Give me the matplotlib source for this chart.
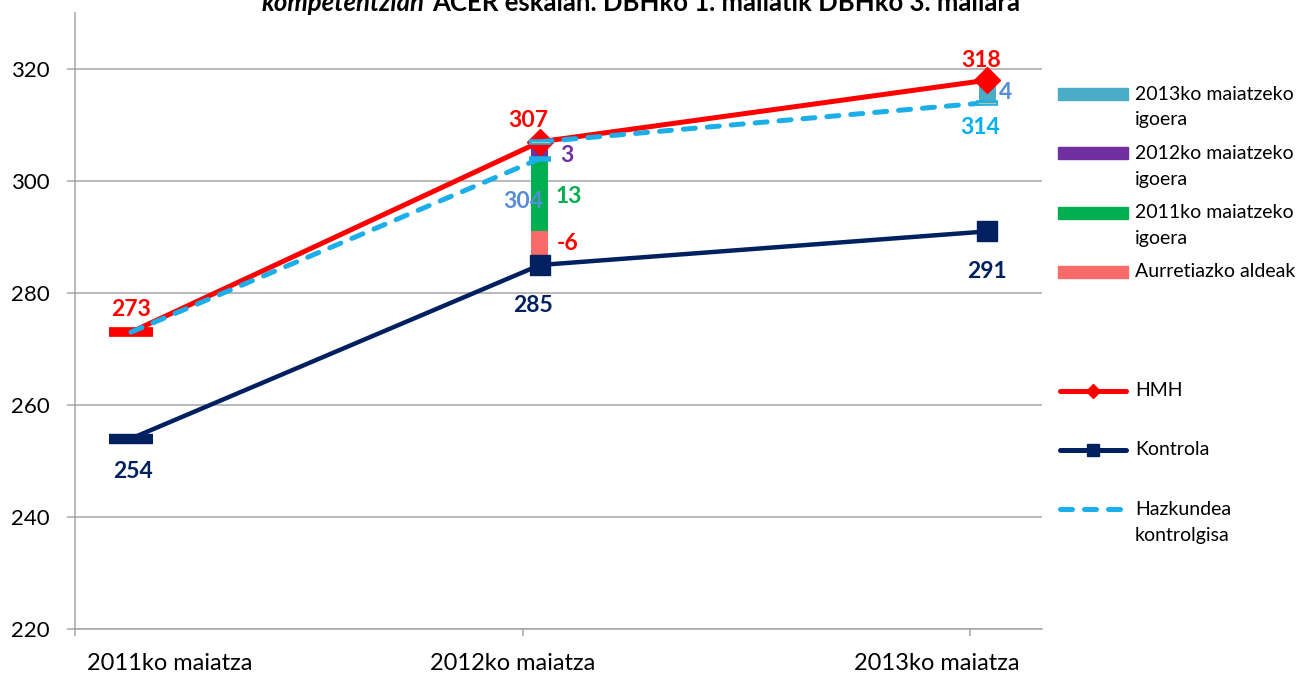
import matplotlib.pyplot as plt
from matplotlib.patches import Rectangle
from matplotlib.lines import Line2D

plt.rcParams['font.family'] = ['Lato', 'DejaVu Sans']

# ---- data ----
periods = ['2011ko maiatza', '2012ko maiatza', '2013ko maiatza']
hmh = [273, 307, 318]
kontrola = [254, 285, 291]
hazk_2012 = [273, 304]      # HMH 2011 + control growth to 2012
hazk_2013 = [307, 314]      # HMH 2012 + control growth to 2013
aurretiazko = -6            # prior difference
igoera_2011 = 13
igoera_2012 = 3
igoera_2013 = 4

# ---- colours ----
RED = '#FF0000'
NAVY = '#002060'
LBLUE = '#1CAEE8'
TEAL = '#4BACC6'
PURPLE = '#7030A0'
GREEN = '#00B050'
PINK = '#F96B6B'
GRID = '#A6A6A6'

W, H = 1300, 673
fig = plt.figure(figsize=(13, 6.73), dpi=100)
ax = fig.add_axes([75 / W, 1 - 629 / H, (1042 - 75) / W, (629 - 13) / H])

# category positions (points sit a bit right of the tick marks, like the original)
xp = [0.125, 1.039, 2.038]
xl = [0.212, 0.977, 1.926]
bw = 0.038

# stacked decomposition at 2012 and 2013
b0 = kontrola[1]
ax.bar(xp[1], abs(aurretiazko), bottom=b0, width=bw, color=PINK, zorder=2)
b1 = b0 + abs(aurretiazko)
ax.bar(xp[1], igoera_2011, bottom=b1, width=bw, color=GREEN, zorder=2)
b2 = b1 + igoera_2011
ax.bar(xp[1], igoera_2012, bottom=b2, width=bw, color=PURPLE, zorder=2)
ax.bar(xp[2], igoera_2013, bottom=hazk_2013[1], width=bw, color=TEAL, zorder=2)

# Kontrola
ax.plot(xp, kontrola, color=NAVY, lw=3.2, solid_capstyle='butt', zorder=3)
ax.plot(xp[1:], kontrola[1:], ls='none', marker='s', ms=14, color=NAVY, zorder=3)
ax.plot(xp[:1], kontrola[:1], ls='none', marker='_', ms=32, mew=7.5, color=NAVY, zorder=3)

# HMH
ax.plot(xp, hmh, color=RED, lw=3.6, solid_capstyle='butt', zorder=4)
ax.plot(xp[1:], hmh[1:], ls='none', marker='D', ms=13.5, color=RED, zorder=4)
ax.plot(xp[:1], hmh[:1], ls='none', marker='_', ms=32, mew=7, color=RED, zorder=4)

# Hazkundea kontrolgisa
for seg, xs in ((hazk_2012, xp[0:2]), (hazk_2013, xp[1:3])):
    ax.plot(xs, seg, color=LBLUE, lw=3.6, dashes=(2.4, 2.4), dash_capstyle='round', zorder=5)
    ax.plot(xs[1:], seg[1:], ls='none', marker='_', ms=16, mew=4, color=LBLUE, zorder=5)
ax.plot(xp[1:2], hazk_2013[:1], ls='none', marker='_', ms=16, mew=4, color=LBLUE, zorder=5)
ax.plot([xp[1], xp[2]], [hazk_2013[0], hazk_2013[1]], ls='none', marker='_', ms=13,
        mew=0.8, color='#C4C48A', zorder=6)

# data labels
lab = dict(fontsize=16.5, fontweight='bold', ha='center', va='center', zorder=7)
ax.text(xp[0], hmh[0] + 4, str(hmh[0]), color=RED, **lab)
ax.text(xp[1] - 0.027, hmh[1] + 3.8, str(hmh[1]), color=RED, **lab)
ax.text(xp[2] - 0.013, hmh[2] + 3.6, str(hmh[2]), color=RED, **lab)
ax.text(xp[0] + 0.004, kontrola[0] - 5.8, str(kontrola[0]), color=NAVY, **lab)
ax.text(xp[1] - 0.016, kontrola[1] - 7.2, str(kontrola[1]), color=NAVY, **lab)
ax.text(xp[2], kontrola[2] - 7.2, str(kontrola[2]), color=NAVY, **lab)
ax.text(xp[1] - 0.038, hazk_2012[1] - 7.6, str(hazk_2012[1]), color='#558ED5', **lab)
ax.text(xp[2] - 0.016, hazk_2013[1] - 4.5, str(hazk_2013[1]), color='#00B0F0', **lab)
ax.text(xp[1] + 0.065, b1 + 6.2, str(igoera_2011), color=GREEN, **lab)
ax.text(xp[1] + 0.062, b0 + 3.75, str(aurretiazko), color=RED, **lab)
ax.text(xp[1] + 0.06, b2 + 0.6, str(igoera_2012), color=PURPLE, **lab)
ax.text(xp[2] + 0.042, hazk_2013[1] + 1.8, str(igoera_2013), color='#558ED5', **lab)

# axes styling
ax.set_xlim(0, (1042 - 75) / 447.5)
ax.set_ylim(220, 330)
ax.set_yticks(range(220, 321, 20))
ax.yaxis.grid(True, color=GRID, lw=1.1)
ax.set_axisbelow(True)
for s in ('top', 'right'):
    ax.spines[s].set_visible(False)
for s in ('left', 'bottom'):
    ax.spines[s].set_color(GRID)
    ax.spines[s].set_linewidth(1.1)
ax.tick_params(axis='y', length=6, width=1.1, color=GRID, labelsize=16, pad=12)
ax.set_xticks(xl)
ax.set_xticklabels(periods)
ax.set_xticks([0, 1, 2], minor=True)
ax.tick_params(axis='x', which='major', length=0, labelsize=17, pad=17)
ax.tick_params(axis='x', which='minor', length=5, width=1.1, color=GRID)

# title (only the lower part of its second line fits in the picture)
renderer = fig.canvas.get_renderer()
t1 = fig.text(262 / W, 1 - 11 / H, 'kompetentzian', fontsize=18.5, fontweight='bold',
              fontstyle='italic', ha='left', va='baseline')
x_end = t1.get_window_extent(renderer).x1
fig.text((x_end + 7) / W, 1 - 11 / H, 'ACER eskalan. DBHko 1. mailatik DBHko 3. mailara',
         fontsize=18.5, fontweight='bold', ha='left', va='baseline')

# legend, drawn by hand to follow the original layout
legend_items = [
    ('patch', TEAL, '2013ko maiatzeko\nigoera'),
    ('patch', PURPLE, '2012ko maiatzeko\nigoera'),
    ('patch', GREEN, '2011ko maiatzeko\nigoera'),
    ('patch', PINK, 'Aurretiazko aldeak'),
    (None, None, ''),
    ('line', (RED, 'D'), 'HMH'),
    ('line', (NAVY, 's'), 'Kontrola'),
    ('dash', LBLUE, 'Hazkundea\nkontrolgisa'),
]
for i, (kind, col, text) in enumerate(legend_items):
    y = 94 + i * 59.3
    if kind == 'patch':
        fig.patches.append(Rectangle((1058 / W, 1 - (y + 6) / H), 70 / W, 12 / H,
                                     color=col, transform=fig.transFigure))
    elif kind == 'line':
        c, m = col
        fig.lines.append(Line2D([1060 / W, 1126 / W], [1 - y / H] * 2, color=c, lw=3.6,
                                solid_capstyle='round', transform=fig.transFigure))
        fig.lines.append(Line2D([1093 / W], [1 - y / H], color=c, marker=m,
                                ms=7 if m == 'D' else 8, ls='none',
                                transform=fig.transFigure))
    elif kind == 'dash':
        fig.lines.append(Line2D([1060 / W, 1126 / W], [1 - y / H] * 2, color=col, lw=3.6,
                                dashes=(2.4, 2.4), dash_capstyle='round',
                                transform=fig.transFigure))
    for k, line in enumerate(text.split('\n')):
        fig.text(1135 / W, 1 - (y + k * 26) / H, line, fontsize=14,
                 ha='left', va='center')

fig.savefig('out.png', dpi=100)
